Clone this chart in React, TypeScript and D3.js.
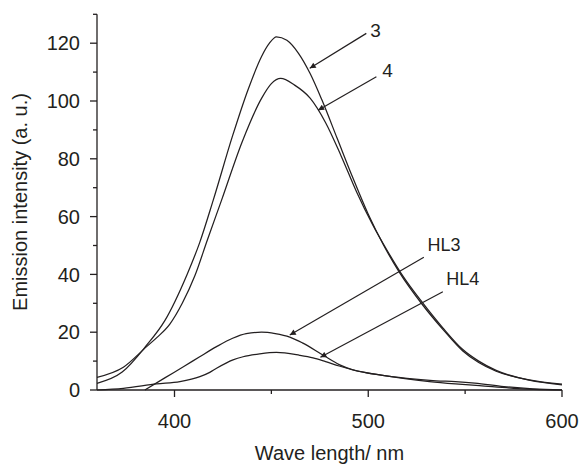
import React from 'react';
import { scaleLinear, line, curveMonotoneX } from 'd3';

const width = 579;
const height = 465;

// curve 3
const wave3 = [360, 373, 385, 395, 406.5, 413, 420, 430, 438, 445, 449, 452.6, 458, 464, 470, 476, 484, 492, 500, 508, 516, 528, 538.5, 548.8, 557, 566, 583, 600];
const int3 = [2.3, 6.2, 15, 24, 40, 51, 65.7, 88, 104, 115.5, 120, 122.2, 121, 116.5, 109.5, 100.5, 87, 73.5, 60.8, 50, 40.8, 29.5, 21, 13.5, 9.5, 6.5, 3.5, 2.0];

// curve 4
const wave4 = [360, 373.6, 385.6, 391, 397.6, 404, 410.5, 417, 424.3, 435, 445, 450, 454.8, 462, 470, 478, 486, 494, 502, 510, 518, 528, 538.5, 548.8, 557, 566, 583, 600];
const int4 = [4.4, 7.9, 15, 18.2, 22.8, 30, 39.5, 52, 65.7, 86, 101, 106, 107.8, 105.5, 101, 92.5, 81, 68.5, 57.5, 48, 39.3, 30.2, 21.5, 14, 10, 6.8, 3.4, 1.8];

// HL3
const waveHL3 = [384.7, 395, 405, 413, 421.7, 430, 437, 444.9, 452, 459.5, 466, 476.6, 485, 492, 505.9, 518, 531.6, 545, 557.4, 575, 600];
const intHL3 = [0, 4.2, 8.2, 11.5, 15, 17.9, 19.5, 20, 19.5, 18.3, 16.3, 12.1, 8.8, 7, 5.2, 4, 2.9, 2.1, 1.5, 0.6, 0];

// HL4
const waveHL4 = [360, 373.6, 390.8, 402.8, 413.1, 418.2, 421.7, 430.2, 435.4, 444, 452.6, 464.6, 471.5, 478, 485, 492, 505, 520, 535, 545, 555, 570, 585, 600];
const intHL4 = [0, 0.6, 2.1, 2.9, 4.6, 6.1, 7.5, 10.4, 11.5, 12.5, 13.0, 12.0, 11.1, 9.8, 8.3, 7, 5.3, 4, 3.2, 2.9, 2.4, 1.2, 0.4, 0];

const xTicks = [400, 500, 600];
const xMinor = [450, 550];
const yTicks = [0, 20, 40, 60, 80, 100, 120];
const yMinor = [10, 30, 50, 70, 90, 110, 130];

// label, label x, label y (baseline), anchor, arrow tail x/y, arrow tip x/y
const notes = [
  { text: '3', lx: 503.8, ly: 122.1, anchor: 'middle', tx: 499, ty: 123.4, hx: 469.8, hy: 111.3 },
  { text: '4', lx: 510, ly: 108.4, anchor: 'middle', tx: 504.2, ty: 108.4, hx: 474.1, hy: 96.8 },
  { text: 'HL3', lx: 530.6, ly: 48.1, anchor: 'start', tx: 528.7, ty: 45.9, hx: 459.5, hy: 19.0 },
  { text: 'HL4', lx: 540.3, ly: 36.3, anchor: 'start', tx: 538.5, ty: 34.0, hx: 475.3, hy: 11.3 },
];

const ink = '#231f20';
const font = '"Liberation Sans", Arial, Helvetica, sans-serif';

const App = () => {
  const x = scaleLinear().domain([360, 600]).range([97, 562]);
  const y = scaleLinear().domain([0, 130]).range([390, 14.3]);

  const path = (xs: number[], ys: number[]) =>
    line<number>()
      .x((d, i) => x(xs[i]))
      .y(d => y(d))
      .curve(curveMonotoneX)(ys) as string;

  const series = [
    [wave3, int3],
    [wave4, int4],
    [waveHL3, intHL3],
    [waveHL4, intHL4],
  ];

  const y0 = y(0);
  const x0 = x(360);

  return (
    <svg width={width} height={height} style={{ position: 'absolute', left: 0, top: 0, background: '#fff' }}>
      <defs>
        <marker id="head" viewBox="0 0 10 10" refX="10" refY="5" markerWidth="8" markerHeight="6" markerUnits="userSpaceOnUse" orient="auto">
          <path d="M0,0 L10,5 L0,10 z" fill={ink} />
        </marker>
      </defs>

      {series.map(([xs, ys], i) => (
        <path key={i} d={path(xs, ys)} fill="none" stroke={ink} strokeWidth={1.25} />
      ))}

      {/* x axis */}
      <line x1={x0} x2={x(600)} y1={y0} y2={y0} stroke={ink} strokeWidth={1.3} />
      {xTicks.map(t => (
        <g key={t}>
          <line x1={x(t)} x2={x(t)} y1={y0} y2={y0 + 7} stroke={ink} strokeWidth={1.3} />
          <text x={x(t)} y={427.5} textAnchor="middle" fontFamily={font} fontSize={20} fill={ink}>{t}</text>
        </g>
      ))}
      {xMinor.map(t => (
        <line key={t} x1={x(t)} x2={x(t)} y1={y0} y2={y0 + 4} stroke={ink} strokeWidth={1.3} />
      ))}

      {/* y axis */}
      <line x1={x0} x2={x0} y1={y(130)} y2={y0} stroke={ink} strokeWidth={1.3} />
      {yTicks.map(t => (
        <g key={t}>
          <line x1={x0 - 7} x2={x0} y1={y(t)} y2={y(t)} stroke={ink} strokeWidth={1.3} />
          <text x={80} y={y(t)} dy="0.36em" textAnchor="end" fontFamily={font} fontSize={20} fill={ink}>{t}</text>
        </g>
      ))}
      {yMinor.map(t => (
        <line key={t} x1={x0 - 4} x2={x0} y1={y(t)} y2={y(t)} stroke={ink} strokeWidth={1.3} />
      ))}

      <text x={329.5} y={460} textAnchor="middle" fontFamily={font} fontSize={20} fill={ink}>Wave length/ nm</text>
      <text transform="translate(27,202) rotate(-90)" textAnchor="middle" fontFamily={font} fontSize={20} fill={ink}>Emission intensity (a. u.)</text>

      {notes.map(n => (
        <g key={n.text}>
          <line x1={x(n.tx)} y1={y(n.ty)} x2={x(n.hx)} y2={y(n.hy)} stroke={ink} strokeWidth={1.2} markerEnd="url(#head)" />
          <text x={x(n.lx)} y={y(n.ly)} textAnchor={n.anchor} fontFamily={font} fontSize={n.text.length > 1 ? 18 : 19} fill={ink}>{n.text}</text>
        </g>
      ))}
    </svg>
  );
};

export default App;
